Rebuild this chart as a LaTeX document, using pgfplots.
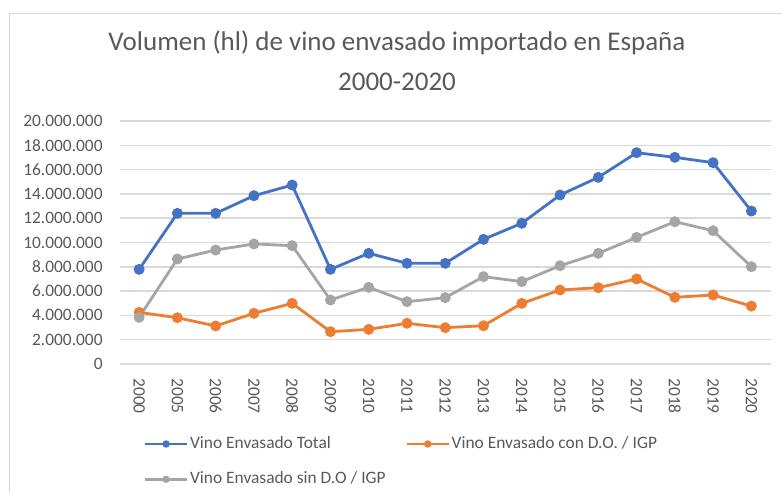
\documentclass[border=0pt]{standalone}
\usepackage{fontspec}
\setmainfont{Carlito}
\usepackage{pgfplots}
\pgfplotsset{compat=1.18}
\definecolor{vtotal}{HTML}{4472C4}
\definecolor{vdo}{HTML}{ED7D31}
\definecolor{vsin}{HTML}{A5A5A5}
\definecolor{vtext}{HTML}{595959}
\definecolor{vgrid}{HTML}{D9D9D9}

\begin{document}
\begin{tikzpicture}
\path[use as bounding box] (0,0) rectangle (391pt,246.5pt);
% chart area border (only left and top show in the reference)
\draw[vgrid,line width=0.7pt] (4.65pt,0) -- (4.65pt,239.85pt) -- (391pt,239.85pt);
\node[font=\fontsize{13.5}{16}\selectfont,text=vtext] at (198.5pt,225pt)
  {Volumen (hl) de vino envasado importado en España};
\node[font=\fontsize{13.5}{16}\selectfont,text=vtext] at (198.5pt,205.5pt) {2000-2020};
\begin{axis}[
  at={(60pt,64.5pt)}, anchor=south west,
  scale only axis, width=325.25pt, height=121.5pt,
  xmin=-0.5, xmax=16.5, ymin=0, ymax=20000000,
  xtick={0,...,16},
  xticklabels={2000,2005,2006,2007,2008,2009,2010,2011,2012,2013,2014,2015,2016,2017,2018,2019,2020},
  ytick={0,2000000,...,20000000},
  scaled y ticks=false,
  yticklabel style={/pgf/number format/.cd,fixed,precision=0,1000 sep={.},assume math mode=true},
  ymajorgrids, grid style={vgrid,line width=0.75pt},
  axis line style={draw=none},
  major tick length=0pt,
  tick label style={font=\fontsize{8.7}{10}\selectfont,text=vtext,inner sep=0pt},
  xticklabel style={rotate=-90,anchor=west},
  xticklabel shift=7pt, yticklabel shift=8.5pt,
  every axis plot/.append style={line width=1.4pt,mark=*,mark size=2pt},
  legend columns=2,
  legend cell align=left,
  legend image code/.code={\draw[#1,mark repeat=2,mark phase=2,mark size=1.1pt]
    plot coordinates {(0pt,0pt) (10.5pt,0pt) (21pt,0pt)};},
  legend style={at={(0.0358,-0.29)},anchor=north west,draw=none,fill=none,
    font=\fontsize{8.7}{10}\selectfont,text=vtext,inner sep=0pt,
    nodes={inner sep=0.8pt},row sep=8.5pt,
    /tikz/every even column/.append style={column sep=9pt}},
]
\addplot[vtotal,mark options={fill=vtotal}] coordinates {
  (0,7790000) (1,12400000) (2,12400000) (3,13850000) (4,14730000) (5,7790000)
  (6,9110000) (7,8290000) (8,8290000) (9,10260000) (10,11580000) (11,13910000)
  (12,15360000) (13,17390000) (14,17010000) (15,16570000) (16,12590000)};
\addplot[vdo,mark options={fill=vdo}] coordinates {
  (0,4250000) (1,3810000) (2,3130000) (3,4170000) (4,4990000) (5,2660000)
  (6,2850000) (7,3350000) (8,2990000) (9,3150000) (10,4990000) (11,6090000)
  (12,6280000) (13,7000000) (14,5490000) (15,5680000) (16,4770000)};
\addplot[vsin,mark options={fill=vsin}] coordinates {
  (0,3840000) (1,8640000) (2,9380000) (3,9880000) (4,9740000) (5,5270000)
  (6,6310000) (7,5130000) (8,5460000) (9,7190000) (10,6780000) (11,8090000)
  (12,9110000) (13,10420000) (14,11710000) (15,10970000) (16,8010000)};
\legend{Vino Envasado Total,Vino Envasado con D.O. / IGP,Vino Envasado sin D.O / IGP}
\end{axis}
\end{tikzpicture}
\end{document}
